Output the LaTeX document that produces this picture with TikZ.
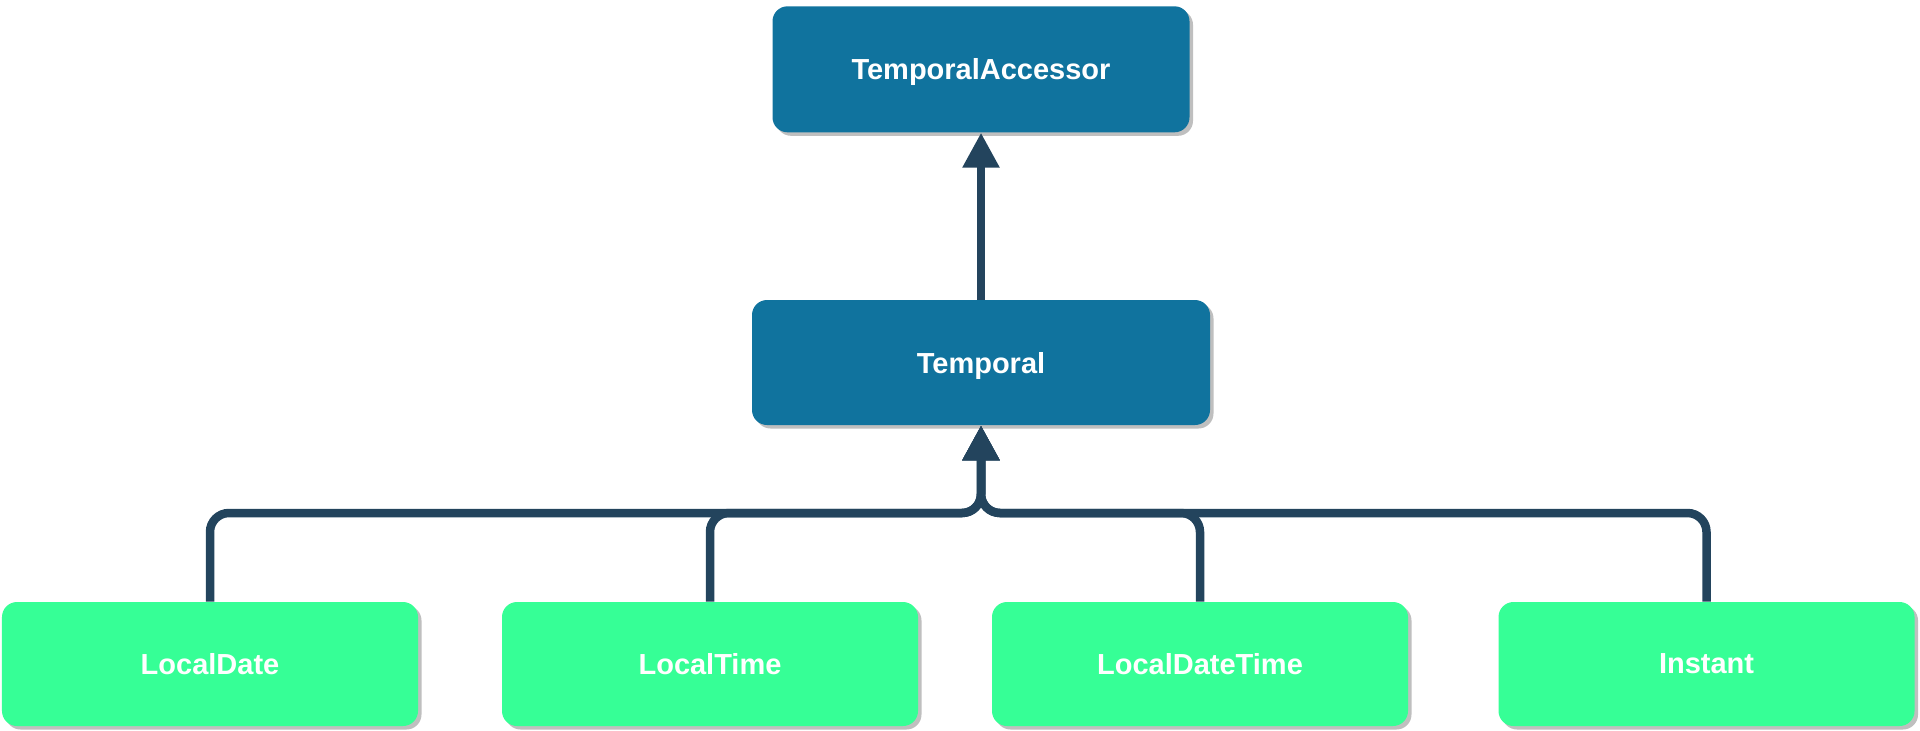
\documentclass[tikz,border=0pt]{standalone}
\usepackage{fontspec}
\setmainfont{Liberation Sans}
\usepackage{xcolor}
\usepackage{tikz}
\usetikzlibrary{positioning,arrows.meta,shadows}

\definecolor{ifaceblue}{HTML}{10739E}
\definecolor{clsgreen}{HTML}{36FF96}
\definecolor{linkdark}{HTML}{23445D}

\begin{document}
\begin{tikzpicture}[
  box/.style={rounded corners=0.3cm, text=white, text depth=0pt, font=\fontsize{16.5}{19}\selectfont\bfseries,
    drop shadow={shadow xshift=0.07cm, shadow yshift=-0.07cm, fill=black!25, opacity=1}},
  iface/.style={box, fill=ifaceblue, minimum height=2.5cm},
  cls/.style={box, fill=clsgreen, minimum width=8.32cm, minimum height=2.48cm},
  link/.style={draw=linkdark, line width=0.17cm, rounded corners=0.38cm,
    -{Triangle[width=0.7cm,length=0.7cm]}}]
\useasboundingbox (0,0) rectangle (38.4,-14.6);

\node[iface, minimum width=9.16cm] (temporal) at (19.62,-7.25) {Temporal};
\node[iface, minimum width=8.34cm, minimum height=2.52cm, above=3.34cm of temporal] (accessor) {TemporalAccessor};

\node[cls] (localdate) at (4.20,-13.28) {LocalDate};
\node[cls] (localtime) at (14.20,-13.28) {LocalTime};
\node[cls] (localdatetime) at (24.00,-13.28) {LocalDateTime};
\node[cls] (instant) at (34.13,-13.28) {Instant};

\coordinate (bus) at (19.62,-10.26);

\draw[link] (temporal.north) -- (accessor.south);
\draw[link] (localdate.north) -- (localdate.north |- bus) -- (bus) -- (temporal.south);
\draw[link] (localtime.north) -- (localtime.north |- bus) -- (bus) -- (temporal.south);
\draw[link] (localdatetime.north) -- (localdatetime.north |- bus) -- (bus) -- (temporal.south);
\draw[link] (instant.north) -- (instant.north |- bus) -- (bus) -- (temporal.south);

\end{tikzpicture}
\end{document}
